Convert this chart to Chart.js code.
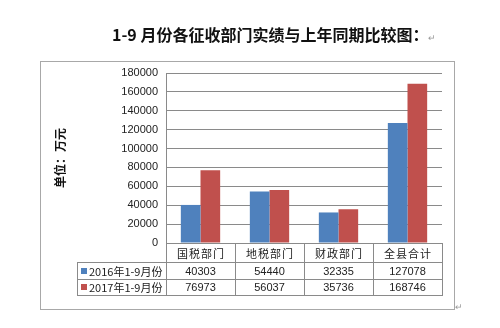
<!DOCTYPE html>
<html>
<head>
<meta charset="utf-8">
<script src="https://cdn.jsdelivr.net/npm/chart.js@4.4.1/dist/chart.umd.min.js"></script>
<style>
  body { margin: 0; background: #fff; }
  #wrap { position: relative; width: 500px; height: 328px; }
  #title {
    position: absolute; left: 112px; top: 22px; white-space: nowrap;
    font: bold 16px "Noto Sans CJK SC", sans-serif; color: #111;
  }
  .mark { color: #9a9a9a; font-weight: normal; font-size: 9px; }
  #endmark { position: absolute; left: 455px; top: 302px; }
  canvas { position: absolute; left: 0; top: 0; }
</style>
</head>
<body>
<div id="wrap">
  <canvas id="chart" width="500" height="328"></canvas>
  <div id="title">1-9 月份各征收部门实绩与上年同期比较图：<span class="mark">↵</span></div>
  <div id="endmark" class="mark">↵</div>
</div>
<script>
const departments = ['国税部门', '地税部门', '财政部门', '全县合计'];
const seriesNames = ['2016年1-9月份', '2017年1-9月份'];
const revenue2016 = [40303, 54440, 32335, 127078];
const revenue2017 = [76973, 56037, 35736, 168746];
const seriesColors = ['#4F81BD', '#C0504D'];
const yMin = 0, yMax = 180000, yStep = 20000;

const lineColor = '#8a8a8a';
const cjkFont = '"Noto Sans CJK SC", sans-serif';

// outer frame around the whole chart object
const framePlugin = {
  id: 'frame',
  beforeDraw(chart) {
    const ctx = chart.ctx;
    ctx.save();
    ctx.strokeStyle = '#a8a8a8';
    ctx.lineWidth = 1;
    ctx.strokeRect(40.5, 61.5, 414, 248);
    ctx.restore();
  }
};

// data table under the plot, columns follow the x scale
const tablePlugin = {
  id: 'dataTable',
  afterDraw(chart) {
    const ctx = chart.ctx;
    const area = chart.chartArea;
    const xs = chart.scales.x;
    const colW = (area.right - area.left) / departments.length;
    const legendLeft = 77;
    const y0 = Math.round(area.bottom), y1 = y0 + 19, y2 = y1 + 17, y3 = y2 + 16;
    const rows = [[y1, y2, revenue2016], [y2, y3, revenue2017]];

    ctx.save();
    ctx.strokeStyle = lineColor;
    ctx.lineWidth = 1;
    const hline = (xa, xb, y) => { ctx.beginPath(); ctx.moveTo(xa, y + 0.5); ctx.lineTo(xb, y + 0.5); ctx.stroke(); };
    const vline = (x, ya, yb) => { ctx.beginPath(); ctx.moveTo(x + 0.5, ya); ctx.lineTo(x + 0.5, yb); ctx.stroke(); };

    hline(area.left, area.right, y0);
    hline(legendLeft, area.right, y1);
    hline(legendLeft, area.right, y2);
    hline(legendLeft, area.right, y3);
    vline(legendLeft, y1, y3 + 1);
    for (let i = 0; i <= departments.length; i++) {
      vline(Math.round(area.left + i * colW), y0, y3 + 1);
    }

    ctx.fillStyle = '#222';
    ctx.textAlign = 'center';
    ctx.textBaseline = 'middle';
    ctx.font = '11px ' + cjkFont;
    ctx.letterSpacing = '1px';
    departments.forEach((d, i) => {
      ctx.fillText(d, xs.getPixelForValue(i) + 0.5, (y0 + y1) / 2 + 1);
    });
    ctx.letterSpacing = '0px';

    ctx.font = '11px "Liberation Sans", sans-serif';
    rows.forEach(([ya, yb, vals]) => {
      vals.forEach((v, i) => ctx.fillText(String(v), xs.getPixelForValue(i), (ya + yb) / 2 + 1));
    });

    ctx.textAlign = 'left';
    ctx.font = '11px ' + cjkFont;
    rows.forEach(([ya, yb], k) => {
      const cy = (ya + yb) / 2;
      ctx.fillStyle = seriesColors[k];
      ctx.fillRect(81, Math.round(cy) - 3, 6, 6);
      ctx.fillStyle = '#222';
      ctx.fillText(seriesNames[k], 89, cy + 1);
    });
    ctx.restore();
  }
};

new Chart(document.getElementById('chart'), {
  type: 'bar',
  data: {
    labels: departments,
    datasets: [
      { label: seriesNames[0], data: revenue2016, backgroundColor: seriesColors[0] },
      { label: seriesNames[1], data: revenue2017, backgroundColor: seriesColors[1] }
    ]
  },
  options: {
    responsive: false,
    animation: false,
    devicePixelRatio: 1,
    layout: { padding: { top: 73, right: 58, bottom: 85, left: 0 } },
    datasets: { bar: { categoryPercentage: 0.57, barPercentage: 1.0 } },
    plugins: { legend: { display: false }, tooltip: { enabled: false } },
    scales: {
      x: { display: false },
      y: {
        min: yMin,
        max: yMax,
        afterFit(scale) { scale.width = 166; },
        grid: { color: lineColor, drawTicks: false },
        border: { display: true, color: lineColor },
        ticks: {
          stepSize: yStep,
          padding: 8,
          color: '#222',
          font: { family: '"Liberation Sans", sans-serif', size: 11 },
          callback: v => String(v)
        },
        title: {
          display: true,
          text: '单位：万元',
          color: '#111',
          font: { family: cjkFont, size: 12, weight: 'bold' },
          padding: { top: 53 }
        }
      }
    }
  },
  plugins: [framePlugin, tablePlugin]
});
</script>
</body>
</html>
